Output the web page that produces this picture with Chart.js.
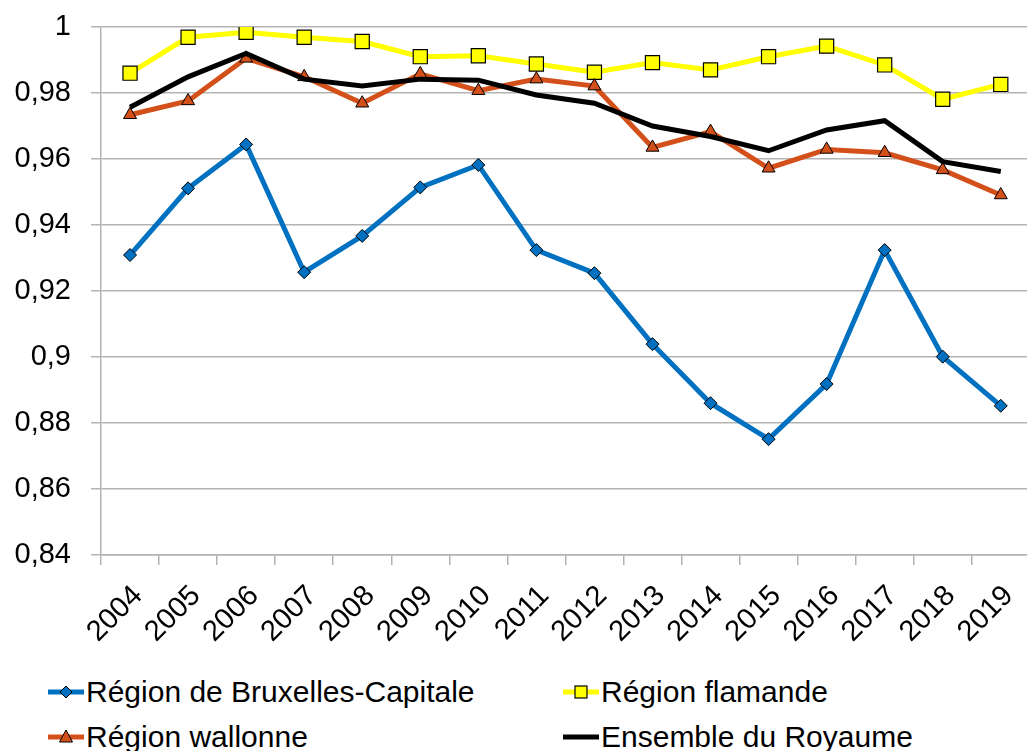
<!DOCTYPE html>
<html>
<head>
<meta charset="utf-8">
<script src="https://cdn.jsdelivr.net/npm/chart.js@4.4.1/dist/chart.umd.min.js"></script>
<style>
  html, body { margin: 0; padding: 0; background: #fff; overflow: hidden; }
  #wrap { position: relative; width: 1027px; height: 751px; overflow: hidden; }
  #chart { position: absolute; left: 0; top: 0; }
  .leg { position: absolute; display: flex; align-items: center; font-family: 'Liberation Sans', Arial, sans-serif; font-size: 30px; color: #000; white-space: nowrap; }
  .leg svg { margin-right: 2px; }
</style>
</head>
<body>
<div id="wrap">
  <canvas id="chart" width="1041" height="660"></canvas>
  <div id="legend"></div>
</div>
<script>
const years = ['2004', '2005', '2006', '2007', '2008', '2009', '2010', '2011', '2012', '2013', '2014', '2015', '2016', '2017', '2018', '2019'];

const bruxelles = [0.9309, 0.9511, 0.9644, 0.9257, 0.9367, 0.9514, 0.9582, 0.9324, 0.9254, 0.9039, 0.8860, 0.8751, 0.8918, 0.9324, 0.9001, 0.8852];
const flamande = [0.9860, 0.9969, 0.9984, 0.9969, 0.9956, 0.9910, 0.9913, 0.9888, 0.9863, 0.9892, 0.9870, 0.9910, 0.9942, 0.9885, 0.9781, 0.9826];
const wallonne = [0.9734, 0.9776, 0.9905, 0.9849, 0.9769, 0.9858, 0.9807, 0.9842, 0.9821, 0.9635, 0.9683, 0.9572, 0.9629, 0.9619, 0.9567, 0.9491];
const royaume = [0.9757, 0.9849, 0.9920, 0.9842, 0.9821, 0.9842, 0.9839, 0.9794, 0.9769, 0.9700, 0.9668, 0.9625, 0.9688, 0.9716, 0.9592, 0.9562];

const seriesNames = ['Région de Bruxelles-Capitale', 'Région flamande', 'Région wallonne', 'Ensemble du Royaume'];

const yMin = 0.84;
const yMax = 1;
const yStep = 0.02;

const gridColor = '#b3b3b3';
const font = "'Liberation Sans', Arial, sans-serif";

const datasets = [
  { label: seriesNames[0], data: bruxelles, borderColor: '#0070c0', backgroundColor: '#0070c0',
    borderWidth: 5, pointStyle: 'rectRot', pointRadius: 6.5, pointBorderColor: '#000', pointBorderWidth: 1, order: 4 },
  { label: seriesNames[1], data: flamande, borderColor: '#ffff00', backgroundColor: '#ffff00',
    borderWidth: 5, pointStyle: 'rect', pointRadius: 10, pointBorderColor: '#000', pointBorderWidth: 1.2, order: 3 },
  { label: seriesNames[2], data: wallonne, borderColor: '#d4501a', backgroundColor: '#d4501a',
    borderWidth: 5, pointStyle: 'triangle', pointRadius: 7.5, pointBorderColor: '#000', pointBorderWidth: 1, order: 2 },
  { label: seriesNames[3], data: royaume, borderColor: '#000', backgroundColor: '#000',
    borderWidth: 5, pointRadius: 0, order: 1 }
];

const ctx = document.getElementById('chart').getContext('2d');
const chart = new Chart(ctx, {
  type: 'line',
  data: { labels: years, datasets: datasets },
  options: {
    responsive: false,
    animation: false,
    layout: { padding: { top: 27, right: 1, left: 0, bottom: 0 } },
    plugins: { legend: { display: false }, tooltip: { enabled: false } },
    elements: { line: { tension: 0 }, point: { hoverRadius: 6 } },
    scales: {
      x: {
        offset: true,
        grid: { drawOnChartArea: false, drawTicks: true, tickLength: 10, color: gridColor, lineWidth: 1.5, offset: true },
        border: { color: gridColor, width: 1.5 },
        ticks: { color: '#000', font: { family: font, size: 29 }, minRotation: 45, maxRotation: 45, padding: 14, labelOffset: 8, autoSkip: false },
        afterFit: s => { s.height = 105; s.paddingLeft = 0; s.paddingRight = 0; }
      },
      y: {
        min: yMin,
        max: yMax,
        grid: { color: gridColor, lineWidth: 1.5, tickLength: 10 },
        border: { color: gridColor, width: 1.5 },
        ticks: {
          stepSize: yStep,
          color: '#000',
          font: { family: font, size: 29 },
          padding: 20,
          callback: v => String(Math.round(v * 100) / 100).replace('.', ',')
        },
        afterFit: s => { s.width = 101; s.paddingTop = 0; s.paddingBottom = 0; }
      }
    }
  }
});

// legend in two fixed columns, like the original spreadsheet chart
function markerSvg(ds) {
  const c = ds.borderColor;
  let m = '';
  if (ds.pointStyle === 'rectRot') m = '<polygon points="18,4 24,10 18,16 12,10" fill="' + c + '" stroke="#000" stroke-width="1"/>';
  if (ds.pointStyle === 'rect') m = '<rect x="12" y="4" width="12" height="12" fill="' + c + '" stroke="#000" stroke-width="1.2"/>';
  if (ds.pointStyle === 'triangle') m = '<polygon points="18,3 24.5,15 11.5,15" fill="' + c + '" stroke="#000" stroke-width="1"/>';
  return '<svg width="36" height="20" viewBox="0 0 36 20"><line x1="0" y1="10" x2="36" y2="10" stroke="' + c + '" stroke-width="5"/>' + m + '</svg>';
}
const legendPos = [[48, 692], [563, 692], [48, 737], [563, 737]];
const legend = document.getElementById('legend');
datasets.forEach((ds, i) => {
  const item = document.createElement('div');
  item.className = 'leg';
  item.style.left = legendPos[i][0] + 'px';
  item.style.top = (legendPos[i][1] - 18) + 'px';
  item.style.height = '36px';
  item.innerHTML = markerSvg(ds) + '<span>' + ds.label + '</span>';
  legend.appendChild(item);
});
</script>
</body>
</html>
